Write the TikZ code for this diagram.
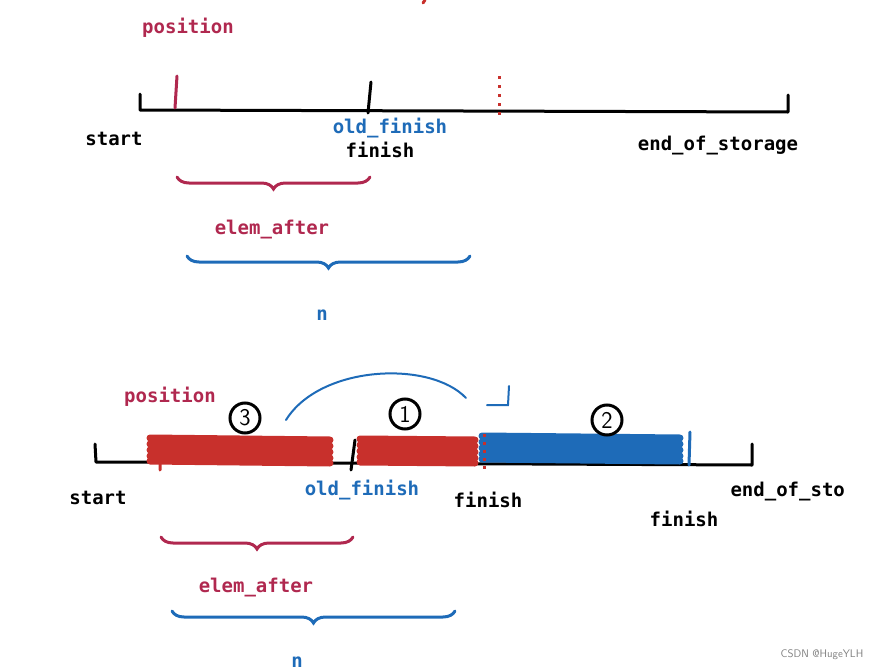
\documentclass[tikz,border=0pt]{standalone}
\usepackage{fontspec}
\setmonofont{DejaVu Sans Mono}
\usetikzlibrary{decorations.pathreplacing}
\definecolor{crim}{HTML}{B0284F}
\definecolor{bl}{HTML}{1E6BB8}
\definecolor{rd}{HTML}{C8302C}
\begin{document}
\begin{tikzpicture}[x=1pt,y=-1pt,
 lbl/.style={font=\ttfamily\bfseries\fontsize{19}{19}\selectfont},
 pen/.style={line width=3pt,line cap=round,line join=round},
 br/.style={line width=3pt,line cap=round,decorate,decoration={brace,amplitude=12pt}},
 num/.style={draw,circle,line width=3pt,minimum size=30pt,inner sep=0pt,font=\sffamily\fontsize{24}{24}\selectfont}]
\useasboundingbox (0,0) rectangle (895,672);
% top
\draw[pen] (140,94) -- (140,110) -- (788,112) -- (788,95);
\draw[pen,crim] (177,76) -- (175,108);
\draw[pen] (371,82) -- (368,113);
\draw[line width=3pt,rd,dash pattern=on 3pt off 6pt] (499,76) -- (499,116);
\draw[pen,rd] (425,0) -- (423,3);
\node[lbl,crim] (pos1) at (188,28) {position};
\node[lbl] (st1) at (114,139) {start};
\node[lbl,bl] (of1) at (390,128) {old\_finish};
\node[lbl] (fi1) at (380,150) {finish};
\node[lbl] (eos1) at (718,146) {end\_of\_storage};
\draw[br,crim] (370,177) -- (177,177);
\node[lbl,crim] (ea1) at (272,230) {elem\_after};
\draw[br,bl] (470,256) -- (187,256);
\node[lbl,bl] (n1) at (322,315) {n};
% bottom
\draw[pen] (95,444) -- (96,462) -- (752,465) -- (752,444);
\foreach \y in {438,444,450,456,461}{
 \draw[line width=7pt,rd,line cap=round] (150,\y) -- (330,\y+2);
 \draw[line width=7pt,rd,line cap=round] (360,\y+1) -- (475,\y+2);
 \draw[line width=7pt,bl,line cap=round] (482,\y-2) -- (680,\y);}
\draw[pen,rd] (161,440) -- (160,470);
\draw[pen] (355,440) -- (351,470);
\draw[line width=3pt,rd,dash pattern=on 3pt off 5pt] (484,434) -- (484,472);
\draw[pen,bl] (690,432) -- (689,465);
\node[num] (c3) at (245,418) {3};
\node[num] (c1) at (405,414) {1};
\node[num] (c2) at (607,420) {2};
\draw[line width=2pt,bl,line cap=round] (286,420) .. controls (320,365) and (430,360) .. (466,398);
\draw[line width=2pt,bl,line cap=round] (487,405) -- (508,405) -- (509,386);
\node[lbl,crim] (pos2) at (170,397) {position};
\node[lbl] (st2) at (98,498) {start};
\node[lbl,bl] (of2) at (362,490) {old\_finish};
\node[lbl] (fi2) at (488,500) {finish};
\node[lbl] (fi3) at (684,519) {finish};
\node[lbl,anchor=west] (eos2) at (727,492) {end\_of\_sto};
\fill[white] (860,470) rectangle (895,510);
\draw[br,crim] (353,537) -- (161,537);
\node[lbl,crim] (ea2) at (256,588) {elem\_after};
\draw[br,bl] (455,611) -- (172,611);
\node[lbl,bl] (n2) at (297,662) {n};
\node[font=\sffamily\fontsize{11}{11}\selectfont,gray] (wm) at (822,655) {CSDN @HugeYLH};
\end{tikzpicture}
\end{document}
